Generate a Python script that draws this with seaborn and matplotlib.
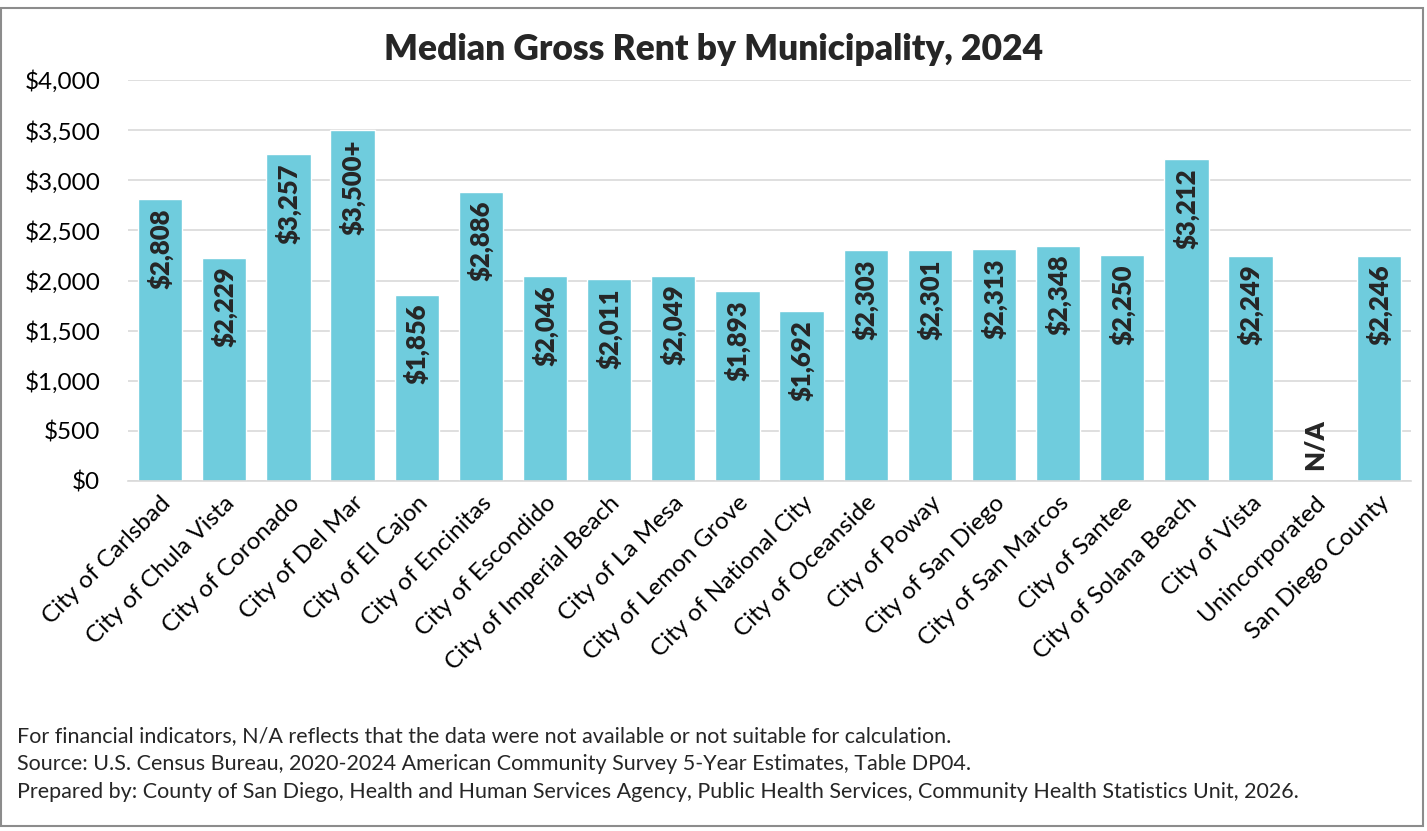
import seaborn as sns
import pandas as pd
import matplotlib.pyplot as plt
from matplotlib.patches import Rectangle
from matplotlib.ticker import FuncFormatter

areas = ['City of Carlsbad', 'City of Chula Vista', 'City of Coronado', 'City of Del Mar',
         'City of El Cajon', 'City of Encinitas', 'City of Escondido', 'City of Imperial Beach',
         'City of La Mesa', 'City of Lemon Grove', 'City of National City', 'City of Oceanside',
         'City of Poway', 'City of San Diego', 'City of San Marcos', 'City of Santee',
         'City of Solana Beach', 'City of Vista', 'Unincorporated', 'San Diego County']
rent = [2808, 2229, 3257, 3500, 1856, 2886, 2046, 2011, 2049, 1893, 1692, 2303,
        2301, 2313, 2348, 2250, 3212, 2249, None, 2246]
labels = ['$2,808', '$2,229', '$3,257', '$3,500+', '$1,856', '$2,886', '$2,046', '$2,011',
          '$2,049', '$1,893', '$1,692', '$2,303', '$2,301', '$2,313', '$2,348', '$2,250',
          '$3,212', '$2,249', 'N/A', '$2,246']
title = 'Median Gross Rent by Municipality, 2024'
notes = ['For financial indicators, N/A reflects that the data were not available or not suitable for calculation.',
         'Source: U.S. Census Bureau, 2020-2024 American Community Survey 5-Year Estimates, Table DP04.',
         'Prepared by: County of San Diego, Health and Human Services Agency, Public Health Services, Community Health Statistics Unit, 2026.']

df = pd.DataFrame({'area': areas, 'rent': rent, 'label': labels})
df['plot'] = df['rent'].fillna(0)

sns.set_style('white')
plt.rcParams['font.family'] = ['Lato', 'DejaVu Sans']

fig = plt.figure(figsize=(14.27, 8.31), dpi=100)
ax = fig.add_axes([128 / 1427, 1 - 481 / 831, (1411 - 128) / 1427, (481 - 80) / 831])

sns.barplot(data=df, x='area', y='plot', order=areas, color='#6FCCDD', saturation=1,
            width=0.69, ax=ax, zorder=2)

ax.set_ylim(0, 4000)
ax.set_xlim(-0.5, len(areas) - 0.5)
ax.set_yticks(range(0, 4001, 500))
ax.yaxis.set_major_formatter(FuncFormatter(lambda v, p: f'${v:,.0f}'))
ax.grid(axis='y', color='#D9D9D9', linewidth=1.2, zorder=0)
for s in ['top', 'right', 'left']:
    ax.spines[s].set_visible(False)
ax.spines['bottom'].set_color('#D9D9D9')
ax.spines['bottom'].set_linewidth(1.2)
ax.tick_params(axis='both', length=0, labelsize=17.5, colors='black')
ax.tick_params(axis='y', pad=20)
ax.tick_params(axis='x', pad=8)
ax.set_xlabel('')
ax.set_ylabel('')
ax.set_xticks(range(len(areas)))
ax.set_xticklabels(areas, rotation=45, ha='right', rotation_mode='anchor', fontsize=17.5)

for i, row in df.iterrows():
    if pd.isna(row['rent']):
        ax.text(i, 110, row['label'], rotation=90, ha='center', va='bottom',
                fontsize=18.5, fontweight='heavy')
    else:
        ax.text(i, row['rent'] - 90, row['label'], rotation=90, ha='center', va='top',
                fontsize=18.5, fontweight='heavy')

fig.text(0.5, 1 - 50 / 831, title, ha='center', va='center', fontsize=25.5, fontweight='heavy')
for k, line in enumerate(notes):
    fig.text(17 / 1427, 1 - (736 + 28 * k) / 831, line, ha='left', va='center', fontsize=15.5)

fig.patches.append(Rectangle((1 / 1427, 1 - 826 / 831), 1422 / 1427, 818 / 831,
                             transform=fig.transFigure, fill=False,
                             edgecolor='#8C8C8C', linewidth=1.5))

fig.savefig('out.png', dpi=100)
